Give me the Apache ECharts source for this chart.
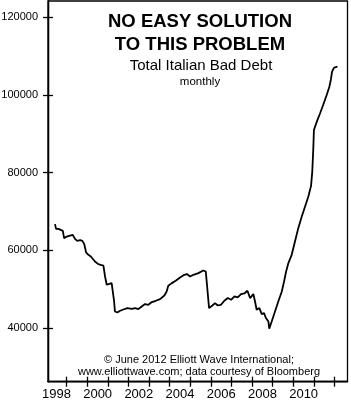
<!DOCTYPE html>
<html>
<head>
<meta charset="utf-8">
<script src="https://cdn.jsdelivr.net/npm/echarts@6/dist/echarts.min.js"></script>
<style>
html,body{margin:0;padding:0;background:#fff;}
#c{width:351px;height:400px;}
</style>
</head>
<body>
<div id="c"></div>
<script>
var years = [1998.43,1998.48,1998.59,1998.71,1998.81,1998.87,1999.00,1999.16,1999.29,1999.40,1999.51,1999.65,1999.76,1999.85,1999.94,2000.05,2000.17,2000.26,2000.37,2000.53,2000.65,2000.78,2000.86,2000.94,2001.07,2001.18,2001.30,2001.34,2001.46,2001.59,2001.75,2001.94,2002.16,2002.32,2002.48,2002.64,2002.80,2002.96,2003.13,2003.32,2003.53,2003.74,2003.85,2003.93,2004.10,2004.29,2004.50,2004.71,2004.83,2004.99,2005.15,2005.39,2005.63,2005.75,2005.84,2005.91,2006.07,2006.20,2006.33,2006.49,2006.65,2006.82,2006.98,2007.14,2007.30,2007.46,2007.62,2007.77,2007.90,2008.06,2008.14,2008.22,2008.35,2008.47,2008.58,2008.67,2008.79,2008.83,2008.95,2009.11,2009.27,2009.44,2009.55,2009.65,2009.76,2009.92,2010.08,2010.24,2010.41,2010.57,2010.73,2010.86,2010.92,2010.97,2011.00,2011.14,2011.30,2011.46,2011.62,2011.75,2011.82,2011.88,2011.98,2012.14];
var badDebt = [66760,65550,65550,65290,65040,63160,63570,63830,64010,62980,62460,62640,62460,61620,59460,58860,58430,58010,57140,56470,56290,56110,53280,51150,51400,51580,46850,44280,44020,44460,44790,45150,44970,45150,44900,45570,46180,46000,46700,47030,47470,48400,49420,50890,51580,52180,53020,53720,53900,53280,53720,54160,54830,54570,54160,45150,45820,46440,45820,46000,47030,47730,47290,48140,47880,48760,48910,49600,47730,48760,46850,44720,45150,43610,43870,42580,41710,39830,41710,44280,46850,49420,52000,54570,56730,58860,62280,65730,68710,71290,73860,76610,80290,86310,91010,93150,95310,97620,100020,102150,103870,106010,107040,107290];
var yTicks = [40000,60000,80000,100000,120000];
var xTicks = [1999,2000,2001,2002,2003,2004,2005,2006,2007,2008,2009,2010,2011,2012];
var xLabelYears = [1998,2000,2002,2004,2006,2008,2010];
var titleLines = ['NO EASY SOLUTION','TO THIS PROBLEM'];
var subtitle = 'Total Italian Bad Debt';
var freq = 'monthly';
var credits = ['\u00A9 June 2012 Elliott Wave International;','www.elliottwave.com; data courtesy of Bloomberg'];

var FONT = '"Liberation Sans", Arial, Helvetica, sans-serif';
var seriesData = years.map(function(y,i){return [y, badDebt[i]];});
var labelPos = xLabelYears.map(function(y){return y+0.5;});

var xMin = 1998.09, xMax = 2012.63, yMin = 26200, yMax = 124200;

function xAxisDef(gi, inside, showLabel){
  return {
    type:'value', gridIndex:gi, position:'bottom', offset:0, min:xMin, max:xMax,
    splitLine:{show:false},
    axisLine:{show:true, lineStyle:{color:'#000', width:1.3}},
    axisTick:{show:true, inside:inside, length:5, customValues:xTicks, lineStyle:{color:'#000', width:1.3}},
    axisLabel:{show:showLabel, customValues:labelPos, margin:6, color:'#000', fontSize:13, fontFamily:FONT,
      formatter:function(v){return String(Math.floor(v));}}
  };
}
function yAxisDef(gi, inside, showLabel){
  return {
    type:'value', gridIndex:gi, position:'left', offset:0, min:yMin, max:yMax,
    splitLine:{show:false},
    axisLine:{show:true, lineStyle:{color:'#000', width:1.3}},
    axisTick:{show:true, inside:inside, length:5, customValues:yTicks, lineStyle:{color:'#000', width:1.3}},
    axisLabel:{show:showLabel, customValues:yTicks, margin:10, color:'#000', fontSize:11, fontFamily:FONT,
      formatter:function(v){return String(Math.round(v));}}
  };
}
var gridBase = {left:48, right:3.5, top:1, bottom:18.3, containLabel:false, outerBoundsMode:'none'};

var chart = echarts.init(document.getElementById('c'), null, {renderer:'canvas'});
chart.setOption({
  animation:false,
  backgroundColor:'#fff',
  grid:[
    Object.assign({show:true, borderColor:'#000', borderWidth:1.3}, gridBase),
    Object.assign({show:false}, gridBase)
  ],
  xAxis:[xAxisDef(0,false,true), xAxisDef(1,true,false)],
  yAxis:[yAxisDef(0,false,true), yAxisDef(1,true,false)],
  series:[{
    type:'line', xAxisIndex:0, yAxisIndex:0, data:seriesData, symbol:'none', smooth:false,
    lineStyle:{color:'#000', width:1.8}
  }],
  graphic:[
    {type:'text', style:{text:titleLines[0], x:200, y:22, align:'center', verticalAlign:'middle', font:'bold 18.5px '+FONT, fill:'#000'}},
    {type:'text', style:{text:titleLines[1], x:200, y:45, align:'center', verticalAlign:'middle', font:'bold 18.5px '+FONT, fill:'#000'}},
    {type:'text', style:{text:subtitle, x:201, y:66, align:'center', verticalAlign:'middle', font:'15px '+FONT, fill:'#000'}},
    {type:'text', style:{text:freq, x:200, y:81.5, align:'center', verticalAlign:'middle', font:'11.5px '+FONT, fill:'#000'}},
    {type:'text', style:{text:credits[0], x:199, y:360, align:'center', verticalAlign:'middle', font:'11px '+FONT, fill:'#000'}},
    {type:'text', style:{text:credits[1], x:199, y:372, align:'center', verticalAlign:'middle', font:'11px '+FONT, fill:'#000'}}
  ]
});
</script>
</body>
</html>
